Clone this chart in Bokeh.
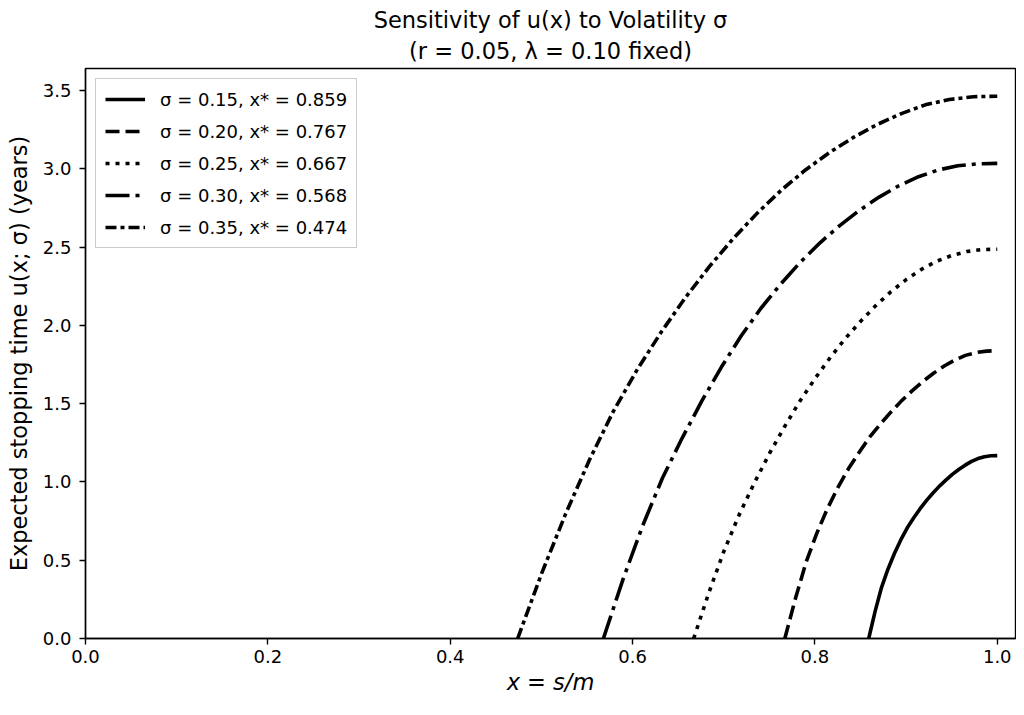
from bokeh.plotting import figure
from bokeh.models import Range1d, FixedTicker, NumeralTickFormatter, Legend, LegendItem
from bokeh.embed import file_html
from bokeh.resources import INLINE

# ---- data ----
sigmas = [0.15, 0.20, 0.25, 0.30, 0.35]
x_stars = [0.859, 0.767, 0.667, 0.568, 0.474]

x_s15 = [0.859, 0.8661, 0.8731, 0.8802, 0.8872, 0.8943, 0.9013, 0.9084, 0.9154, 0.9225, 0.9295,
         0.9366, 0.9436, 0.9507, 0.9577, 0.9648, 0.9718, 0.9789, 0.9859, 0.9930, 1.0]
u_s15 = [0.0, 0.175, 0.327, 0.444, 0.543, 0.631, 0.707, 0.771, 0.829, 0.882, 0.929,
         0.973, 1.011, 1.048, 1.079, 1.107, 1.131, 1.149, 1.161, 1.167, 1.168]

x_s20 = [0.767, 0.7787, 0.7903, 0.8020, 0.8136, 0.8253, 0.8369, 0.8486, 0.8602, 0.8719, 0.8835,
         0.8952, 0.9068, 0.9185, 0.9301, 0.9418, 0.9534, 0.9651, 0.9767, 0.9884, 1.0]
u_s20 = [0.0, 0.257, 0.487, 0.671, 0.828, 0.965, 1.085, 1.190, 1.287, 1.370, 1.447,
         1.519, 1.583, 1.642, 1.694, 1.740, 1.778, 1.808, 1.826, 1.835, 1.839]

x_s25 = [0.667, 0.6837, 0.7003, 0.7170, 0.7336, 0.7503, 0.7669, 0.7836, 0.8002, 0.8169, 0.8335,
         0.8502, 0.8668, 0.8835, 0.9001, 0.9168, 0.9334, 0.9501, 0.9667, 0.9834, 1.0]
u_s25 = [0.0, 0.293, 0.559, 0.791, 0.994, 1.183, 1.355, 1.516, 1.661, 1.795, 1.917,
         2.026, 2.126, 2.215, 2.292, 2.357, 2.409, 2.446, 2.471, 2.484, 2.486]

x_s30 = [0.568, 0.5896, 0.6112, 0.6328, 0.6544, 0.6760, 0.6976, 0.7192, 0.7408, 0.7624, 0.7840,
         0.8056, 0.8272, 0.8488, 0.8704, 0.8920, 0.9136, 0.9352, 0.9568, 0.9784, 1.0]
u_s30 = [0.0, 0.379, 0.722, 1.025, 1.280, 1.517, 1.735, 1.933, 2.109, 2.263, 2.403,
         2.527, 2.637, 2.734, 2.819, 2.891, 2.949, 2.992, 3.019, 3.031, 3.034]

x_s35 = [0.474, 0.5003, 0.5266, 0.5529, 0.5792, 0.6055, 0.6318, 0.6581, 0.6844, 0.7107, 0.7370,
         0.7633, 0.7896, 0.8159, 0.8422, 0.8685, 0.8948, 0.9211, 0.9474, 0.9737, 1.0]
u_s35 = [0.0, 0.416, 0.796, 1.143, 1.454, 1.721, 1.960, 2.178, 2.376, 2.556, 2.718,
         2.864, 2.992, 3.103, 3.200, 3.283, 3.352, 3.408, 3.442, 3.460, 3.463]

x_ticks = [0.0, 0.2, 0.4, 0.6, 0.8, 1.0]
y_ticks = [0.0, 0.5, 1.0, 1.5, 2.0, 2.5, 3.0, 3.5]

title_text = "Sensitivity of u(x) to Volatility σ\n(r = 0.05, λ = 0.10 fixed)"
x_label = "x = s/m"
y_label = "Expected stopping time u(x; σ) (years)"

FONT = "DejaVu Sans"

p = figure(width=1016, height=699, output_backend="svg", toolbar_location=None,
           x_range=Range1d(0, 1.02), y_range=Range1d(0, 3.64),
           min_border_left=85, min_border_right=1, min_border_top=63, min_border_bottom=61,
           background_fill_color="white", border_fill_color="white")

p.title.text = title_text
p.title.align = "center"
p.title.text_align = "center"
p.title.text_font = FONT
p.title.text_font_size = "22.5px"
p.title.text_font_style = "normal"
p.title.text_color = "black"
p.title.text_line_height = 1.2
p.title.standoff = 9

p.xgrid.visible = False
p.ygrid.visible = False
p.outline_line_color = "black"
p.outline_line_width = 1.4
p.outline_line_alpha = 1.0

for ax in (p.xaxis, p.yaxis):
    ax.axis_line_color = "black"
    ax.axis_line_width = 1.4
    ax.major_tick_line_color = "black"
    ax.major_tick_line_width = 1.4
    ax.major_tick_out = 6
    ax.major_tick_in = 0
    ax.minor_tick_out = 0
    ax.minor_tick_in = 0
    ax.major_label_text_font = FONT
    ax.major_label_text_font_size = "18px"
    ax.major_label_text_color = "black"
    ax.axis_label_text_font = FONT
    ax.axis_label_text_font_size = "22.5px"
    ax.axis_label_text_color = "black"
    ax.formatter = NumeralTickFormatter(format="0.0")

p.xaxis.ticker = FixedTicker(ticks=x_ticks)
p.yaxis.ticker = FixedTicker(ticks=y_ticks)
p.xaxis.axis_label = x_label
p.xaxis.axis_label_text_font_style = "italic"
p.yaxis.axis_label = y_label
p.yaxis.axis_label_text_font_style = "normal"
p.xaxis.major_label_standoff = 5
p.yaxis.major_label_standoff = 8
p.xaxis.axis_label_standoff = 3
p.yaxis.axis_label_standoff = 8

series = [
    (x_s15, u_s15, "solid"),
    (x_s20, u_s20, "14 6"),
    (x_s25, u_s25, "4 6"),
    (x_s30, u_s30, "24 6 4 6"),
    (x_s35, u_s35, "11 4 4 4"),
]

items = []
for (xs, us, dash), s, xs_ in zip(series, sigmas, x_stars):
    r = p.line(xs, us, line_color="black", line_width=3.6, line_dash=dash)
    items.append(LegendItem(label=f"σ = {s:.2f}, x* = {xs_:.3f}", renderers=[r]))

legend = Legend(items=items, location="top_left", margin=10, padding=9, spacing=10,
                glyph_width=40, glyph_height=22, label_height=22, label_standoff=15,
                label_text_font=FONT, label_text_font_size="18px", label_text_color="black",
                border_line_color="#cccccc", border_line_width=1.2, border_line_alpha=1.0,
                background_fill_color="white", background_fill_alpha=0.8)
p.add_layout(legend)

open("out.html", "w").write(file_html(p, INLINE))
